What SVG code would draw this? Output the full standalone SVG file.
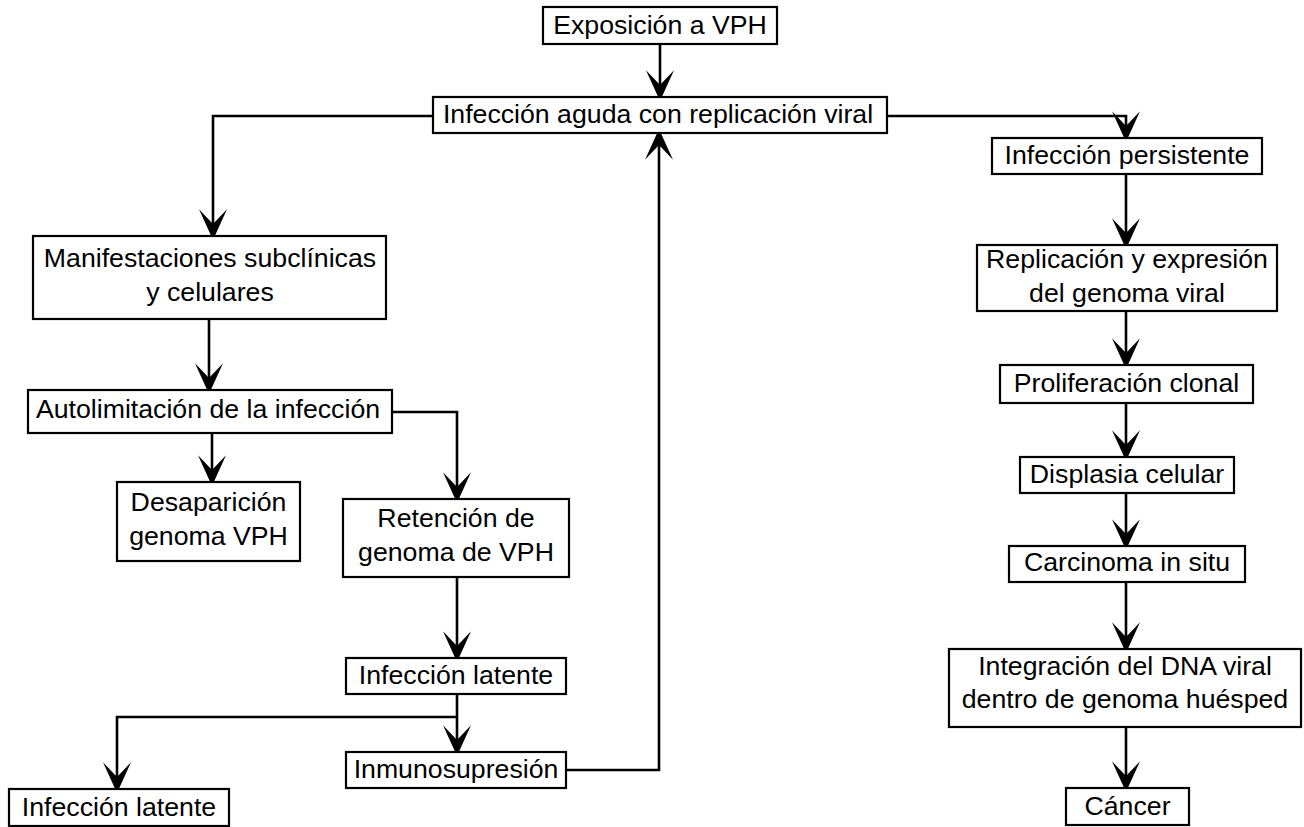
<svg xmlns="http://www.w3.org/2000/svg" width="1304" height="827" viewBox="0 0 1304 827">
<style>
.box{fill:#fff;stroke:#000;stroke-width:2.2}
.t{font-family:"Liberation Sans",Arial,sans-serif;font-size:26.7px;fill:#000;text-anchor:middle}
.c{fill:none;stroke:#000;stroke-width:2.6}
</style>
<defs>
<marker id="ah" markerUnits="userSpaceOnUse" markerWidth="40" markerHeight="40" refX="0" refY="0" viewBox="-15 -15 30 30" orient="auto" overflow="visible">
<path d="M12,0 L-11,-10.5 L0,0 L-11,10.5 Z" fill="#000"/>
</marker>
</defs>
<rect width="1304" height="827" fill="#fff"/>
<g id="connectors">
<path class="c" d="M660,44 V85" marker-end="url(#ah)"/>
<path class="c" d="M433,116 H213 V224" marker-end="url(#ah)"/>
<path class="c" d="M887,116 H1126 V126" marker-end="url(#ah)"/>
<path class="c" d="M209,319 V378" marker-end="url(#ah)"/>
<path class="c" d="M392,412 H457 V487" marker-end="url(#ah)"/>
<path class="c" d="M212,433 V470" marker-end="url(#ah)"/>
<path class="c" d="M457,577 V646" marker-end="url(#ah)"/>
<path class="c" d="M457,694 V740" marker-end="url(#ah)"/>
<path class="c" d="M457,717 H117 V777" marker-end="url(#ah)"/>
<path class="c" d="M566,770 H659 V145" marker-end="url(#ah)"/>
<path class="c" d="M1126,174 V233" marker-end="url(#ah)"/>
<path class="c" d="M1126,311 V353" marker-end="url(#ah)"/>
<path class="c" d="M1126,403 V445" marker-end="url(#ah)"/>
<path class="c" d="M1126,493 V534" marker-end="url(#ah)"/>
<path class="c" d="M1126,582 V637" marker-end="url(#ah)"/>
<path class="c" d="M1126,727 V776" marker-end="url(#ah)"/>
</g>
<g id="n1"><rect class="box" x="543" y="7" width="234" height="37"/><text class="t" x="660" y="34">Exposición a VPH</text></g>
<g id="n2"><rect class="box" x="433" y="97" width="454" height="36"/><text class="t" x="658" y="123">Infección aguda con replicación viral</text></g>
<g id="n3"><rect class="box" x="33" y="236" width="353" height="83"/><text class="t" x="210" y="267">Manifestaciones subclínicas</text><text class="t" x="210" y="301">y celulares</text></g>
<g id="n4"><rect class="box" x="28" y="390" width="364" height="43"/><text class="t" x="208" y="418">Autolimitación de la infección</text></g>
<g id="n5"><rect class="box" x="117" y="482" width="183" height="79"/><text class="t" x="208.5" y="511">Desaparición</text><text class="t" x="208.5" y="545">genoma VPH</text></g>
<g id="n6"><rect class="box" x="343" y="499" width="226" height="78"/><text class="t" x="456" y="527">Retención de</text><text class="t" x="456" y="561">genoma de VPH</text></g>
<g id="n7"><rect class="box" x="346" y="658" width="220" height="36"/><text class="t" x="456" y="684">Infección latente</text></g>
<g id="n8"><rect class="box" x="346" y="752" width="220" height="36"/><text class="t" x="456" y="778">Inmunosupresión</text></g>
<g id="n9"><rect class="box" x="9" y="789" width="220" height="37"/><text class="t" x="119" y="816">Infección latente</text></g>
<g id="n10"><rect class="box" x="992" y="138" width="270" height="36"/><text class="t" x="1127" y="164">Infección persistente</text></g>
<g id="n11"><rect class="box" x="977" y="245" width="300" height="66"/><text class="t" x="1127" y="268">Replicación y expresión</text><text class="t" x="1127" y="302">del genoma viral</text></g>
<g id="n12"><rect class="box" x="1000" y="365" width="253" height="38"/><text class="t" x="1126.5" y="392">Proliferación clonal</text></g>
<g id="n13"><rect class="box" x="1020" y="457" width="214" height="36"/><text class="t" x="1127" y="483">Displasia celular</text></g>
<g id="n14"><rect class="box" x="1009" y="546" width="236" height="36"/><text class="t" x="1127" y="571">Carcinoma in situ</text></g>
<g id="n15"><rect class="box" x="949" y="649" width="352" height="78"/><text class="t" x="1125" y="675">Integración del DNA viral</text><text class="t" x="1125" y="708">dentro de genoma huésped</text></g>
<g id="n16"><rect class="box" x="1066" y="788" width="123" height="37"/><text class="t" x="1127.5" y="815">Cáncer</text></g>
</svg>
